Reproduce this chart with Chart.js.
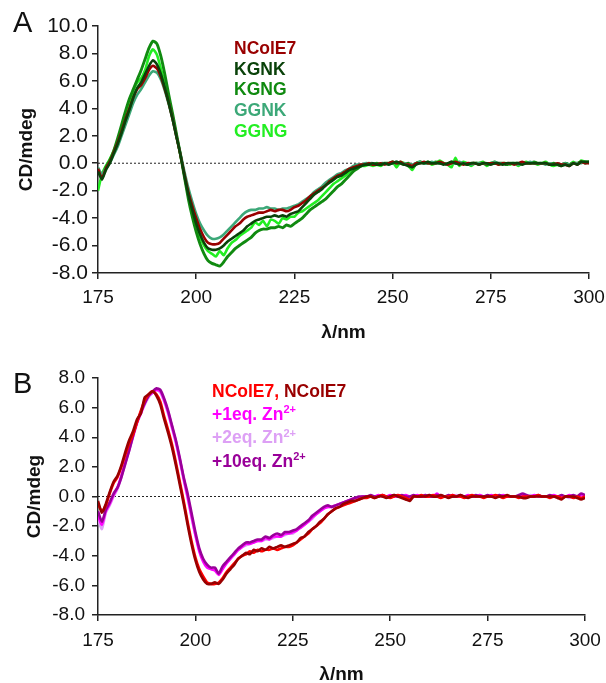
<!DOCTYPE html>
<html><head><meta charset="utf-8">
<script src="https://cdn.jsdelivr.net/npm/chart.js@4.4.1/dist/chart.umd.min.js"></script>
<style>
body{margin:0;background:#fff;}
#wrap{position:relative;width:606px;height:683px;font-family:"Liberation Sans",Arial,sans-serif;overflow:hidden;}
canvas{position:absolute;left:0;}
.pl{position:absolute;font-size:29px;line-height:29px;color:#111;}
.lg{position:absolute;font-size:17.5px;line-height:17px;font-weight:bold;white-space:nowrap;}
.sp{font-size:11px;position:relative;top:-6.5px;}
</style></head>
<body><div id="wrap">
<canvas id="cA" width="606" height="345" style="top:0"></canvas>
<canvas id="cB" width="606" height="338" style="top:345px"></canvas>
<div class="pl" style="left:13px;top:8px">A</div>
<div class="pl" style="left:13px;top:369px">B</div>
<div class="lg" style="left:234px;top:40px;color:#990000">NColE7</div>
<div class="lg" style="left:234px;top:60.5px;color:#0a420a">KGNK</div>
<div class="lg" style="left:234px;top:81px;color:#108a10">KGNG</div>
<div class="lg" style="left:234px;top:101.5px;color:#3ca878">GGNK</div>
<div class="lg" style="left:234px;top:122.5px;color:#22ee22">GGNG</div>
<div class="lg" style="left:212px;top:382.7px"><span style="color:#ff0000">NColE7,</span> <span style="color:#990000">NColE7</span></div>
<div class="lg" style="left:212px;top:405.7px;color:#ff00ff">+1eq. Zn<span class="sp">2+</span></div>
<div class="lg" style="left:212px;top:429.2px;color:#dda0f5">+2eq. Zn<span class="sp">2+</span></div>
<div class="lg" style="left:212px;top:452.7px;color:#990099">+10eq. Zn<span class="sp">2+</span></div>
</div>
<script>
const wavelengths = [175,176,177,178,179,180,181,182,183,184,185,186,187,188,189,190,191,192,193,194,195,196,197,198,199,200,201,202,203,204,205,206,207,208,209,210,211,212,213,214,215,216,217,218,219,220,221,222,223,224,225,226,227,228,229,230,231,232,233,234,235,236,237,238,239,240,241,242,243,244,245,246,247,248,249,250,251,252,253,254,255,256,257,258,259,260,261,262,263,264,265,266,267,268,269,270,271,272,273,274,275,276,277,278,279,280,281,282,283,284,285,286,287,288,289,290,291,292,293,294,295,296,297,298,299,300];
const xTicks = [175,200,225,250,275,300];
const yTicksA = [-8,-6,-4,-2,0,2,4,6,8,10];
const yTicksB = [-8,-6,-4,-2,0,2,4,6,8];

// Panel A
const aNColE7 = [-0.4,-1.1,-0.4,0.1,0.8,1.5,2.3,3.2,4.0,4.8,
 5.4,5.7,6.2,6.8,7.1,6.9,6.3,5.4,4.4,3.2,
 1.9,0.6,-0.8,-2.1,-3.1,-4.0,-4.8,-5.4,-5.8,-5.9,
 -5.9,-5.8,-5.5,-5.2,-4.9,-4.6,-4.4,-4.1,-3.9,-3.8,
 -3.7,-3.6,-3.6,-3.5,-3.4,-3.5,-3.4,-3.4,-3.5,-3.4,
 -3.2,-3.1,-2.9,-2.7,-2.4,-2.2,-2.0,-1.8,-1.6,-1.3,
 -1.1,-0.9,-0.8,-0.6,-0.4,-0.3,-0.2,-0.1,-0.1,0.0,
 -0.1,-0.1,0.0,-0.1,0.0,0.1,0.0,0.1,-0.1,-0.1,
 -0.2,0.0,0.0,0.1,0.0,0.0,0.0,0.1,0.0,-0.1,
 0.0,0.1,0.0,-0.1,0.0,0.0,0.0,-0.1,0.0,0.0,
 0.0,0.0,-0.1,0.0,0.0,0.0,-0.1,0.0,0.1,0.0,
 0.0,0.0,0.0,0.0,0.0,-0.1,-0.1,0.0,-0.1,-0.1,
 -0.2,0.0,-0.1,0.1,0.0,0.0];
const aKGNK = [-0.6,-1.2,-0.5,0.0,0.7,1.4,2.2,3.1,3.9,4.8,
 5.5,5.9,6.5,7.1,7.5,7.2,6.5,5.5,4.4,3.2,
 1.9,0.6,-0.9,-2.3,-3.4,-4.4,-5.2,-5.8,-6.2,-6.3,
 -6.3,-6.2,-6.0,-5.7,-5.5,-5.3,-5.1,-4.9,-4.6,-4.4,
 -4.2,-4.1,-4.0,-3.9,-3.9,-3.8,-3.9,-3.8,-3.9,-3.7,
 -3.6,-3.5,-3.2,-2.9,-2.6,-2.3,-2.1,-1.9,-1.6,-1.4,
 -1.2,-1.0,-0.9,-0.7,-0.5,-0.4,-0.3,-0.2,-0.1,-0.1,
 0.0,-0.1,-0.1,0.0,-0.1,0.0,0.1,0.0,-0.1,-0.2,
 -0.3,-0.1,0.0,0.0,0.1,0.0,0.0,0.0,-0.1,0.0,
 0.1,0.0,-0.1,0.0,-0.1,0.0,0.0,-0.1,0.0,0.0,
 -0.1,0.0,0.0,-0.1,0.0,0.0,0.0,0.0,-0.1,0.0,
 0.0,0.0,0.0,0.0,0.0,-0.1,-0.1,-0.1,-0.2,-0.1,
 -0.2,0.0,-0.1,0.1,0.1,0.1];
const aKGNG = [-0.5,-1.0,-0.3,0.2,0.9,1.8,2.8,3.8,4.7,5.4,
 6.1,6.8,7.6,8.4,8.9,8.7,7.8,6.5,5.0,3.6,
 2.1,0.6,-1.0,-2.6,-3.9,-5.0,-5.9,-6.6,-7.1,-7.3,
 -7.4,-7.5,-7.2,-6.8,-6.5,-6.2,-6.0,-5.8,-5.6,-5.4,
 -5.1,-4.9,-4.8,-4.8,-4.7,-4.7,-4.6,-4.7,-4.5,-4.6,
 -4.4,-4.2,-4.0,-3.7,-3.4,-3.2,-3.0,-2.8,-2.6,-2.3,
 -2.0,-1.7,-1.5,-1.2,-0.9,-0.6,-0.4,-0.2,-0.1,0.0,
 -0.1,0.0,-0.1,0.0,0.0,0.1,0.0,0.0,-0.1,0.0,
 -0.2,0.0,0.1,0.0,0.0,0.0,0.1,0.0,0.0,-0.1,
 0.1,0.0,0.0,0.0,-0.1,0.0,0.0,0.0,0.0,-0.1,
 0.0,0.0,0.0,0.0,-0.1,0.0,0.0,0.0,0.0,0.0,
 0.0,0.1,0.0,0.0,0.0,-0.1,0.0,-0.1,-0.1,0.0,
 -0.1,0.0,0.0,0.1,0.0,0.1];
const aGGNK = [-0.3,-0.8,-0.4,0.0,0.6,1.2,2.0,2.8,3.6,4.4,
 5.0,5.4,5.9,6.4,6.7,6.6,6.1,5.3,4.3,3.2,
 1.9,0.7,-0.6,-1.8,-2.8,-3.7,-4.4,-4.9,-5.3,-5.5,
 -5.5,-5.4,-5.2,-4.9,-4.6,-4.3,-4.0,-3.7,-3.5,-3.4,
 -3.4,-3.3,-3.3,-3.2,-3.3,-3.3,-3.4,-3.3,-3.3,-3.2,
 -3.1,-3.0,-2.8,-2.6,-2.4,-2.1,-1.9,-1.7,-1.4,-1.2,
 -1.0,-0.8,-0.7,-0.5,-0.4,-0.2,-0.1,-0.1,0.0,0.0,
 0.0,-0.1,0.0,0.0,-0.1,0.0,0.1,0.0,0.0,-0.1,
 -0.1,0.0,0.1,0.0,0.0,0.1,0.0,0.0,0.0,-0.1,
 0.0,0.0,0.1,0.0,0.0,-0.1,0.0,0.0,0.0,0.0,
 0.0,0.1,0.0,0.0,0.0,0.0,0.0,-0.1,0.0,0.0,
 0.1,0.0,0.0,0.0,-0.1,0.0,-0.1,0.0,-0.1,0.0,
 -0.1,0.0,0.0,0.0,0.1,0.0];
const aGGNG = [-2.0,-0.8,-0.2,0.3,0.9,1.6,2.4,3.3,4.3,5.3,
 5.9,6.2,6.8,7.8,8.3,7.9,6.9,5.8,4.6,3.4,
 2.0,0.6,-0.9,-2.4,-3.6,-4.6,-5.4,-6.0,-6.4,-6.6,
 -6.8,-6.4,-6.7,-6.2,-5.8,-5.6,-5.3,-5.1,-4.9,-4.7,
 -4.3,-4.5,-4.2,-4.6,-4.1,-4.2,-4.4,-4.0,-4.1,-3.9,
 -3.9,-3.6,-3.5,-3.3,-3.1,-2.9,-2.7,-2.4,-2.1,-1.8,
 -1.5,-1.3,-1.1,-0.9,-0.6,-0.4,-0.3,-0.2,-0.2,-0.1,
 -0.2,-0.1,-0.2,0.0,-0.1,0.1,-0.3,0.1,0.0,-0.2,
 -0.5,0.0,0.1,0.0,0.1,-0.1,0.0,0.2,0.0,-0.1,
 -0.3,0.4,-0.2,0.1,0.0,-0.2,0.0,0.0,0.1,-0.2,
 0.0,0.1,-0.1,0.0,0.0,-0.1,0.0,-0.2,0.0,0.1,
 0.0,0.0,-0.1,0.0,0.1,-0.1,-0.2,-0.1,-0.2,0.0,
 -0.1,0.1,-0.1,0.2,0.1,0.1];

// Panel B
const bNColE7red = [-0.5,-1.0,-0.6,0.2,0.9,1.3,2.0,2.8,3.6,4.2,
 5.0,5.8,6.5,6.9,7.1,6.9,6.4,5.4,4.5,3.5,
 2.3,1.0,-0.3,-1.7,-3.0,-4.1,-4.9,-5.4,-5.8,-5.9,
 -5.9,-5.8,-5.5,-5.1,-4.8,-4.5,-4.2,-4.0,-3.9,-3.7,
 -3.8,-3.6,-3.7,-3.6,-3.6,-3.5,-3.6,-3.5,-3.4,-3.4,
 -3.3,-3.1,-2.9,-2.7,-2.5,-2.2,-2.0,-1.8,-1.5,-1.2,
 -1.0,-0.8,-0.7,-0.6,-0.5,-0.4,-0.3,-0.2,-0.1,-0.1,
 0.0,-0.1,0.0,0.1,0.0,-0.1,0.0,0.1,0.0,-0.1,
 -0.2,0.0,0.0,0.1,0.0,0.0,0.1,0.0,-0.1,0.0,
 0.0,0.1,0.0,0.0,-0.1,0.0,0.1,0.0,0.0,-0.1,
 0.0,0.0,0.1,0.0,-0.1,0.0,0.0,0.0,-0.1,0.0,
 0.0,0.0,0.0,0.1,0.0,0.0,-0.1,0.0,0.0,-0.1,
 0.0,0.0,-0.1,0.0,-0.1,0.0];
const bNColE7dark = [-0.3,-1.1,-0.5,0.3,1.0,1.4,2.1,3.0,3.8,4.4,
 5.2,5.6,6.7,6.9,7.1,6.8,6.2,5.2,4.3,3.3,
 2.1,0.8,-0.5,-1.9,-3.2,-4.3,-5.1,-5.6,-5.9,-5.9,
 -5.8,-5.9,-5.6,-5.2,-4.9,-4.6,-4.2,-4.0,-3.8,-3.9,
 -3.6,-3.7,-3.5,-3.6,-3.4,-3.5,-3.4,-3.3,-3.4,-3.3,
 -3.2,-3.1,-2.8,-2.7,-2.4,-2.2,-2.0,-1.7,-1.5,-1.2,
 -1.0,-0.8,-0.7,-0.5,-0.4,-0.3,-0.3,-0.2,-0.1,0.0,
 0.0,-0.1,0.0,0.0,-0.1,0.0,0.1,0.0,-0.1,-0.2,
 -0.3,0.0,0.0,0.0,0.0,0.1,0.0,0.0,0.1,0.0,
 -0.1,0.0,0.0,0.1,0.0,-0.1,0.0,0.0,0.0,0.0,
 0.0,0.0,-0.1,0.0,0.0,0.1,0.0,0.0,0.0,-0.1,
 -0.1,0.0,0.0,0.0,0.0,0.0,0.0,0.0,-0.1,-0.2,
 0.0,0.0,0.0,-0.1,-0.2,-0.1];
const bZn1 = [-1.3,-1.9,-1.0,-0.5,0.1,0.6,1.4,2.3,3.2,4.1,
 5.0,5.6,6.3,6.8,7.0,7.2,7.1,6.5,5.7,4.7,
 3.7,2.5,1.2,0.0,-1.3,-2.6,-3.7,-4.4,-4.8,-4.9,
 -5.0,-5.3,-4.9,-4.5,-4.2,-3.9,-3.6,-3.4,-3.2,-3.2,
 -3.1,-3.0,-3.0,-2.8,-2.9,-2.7,-2.7,-2.7,-2.5,-2.5,
 -2.4,-2.3,-2.1,-1.9,-1.7,-1.4,-1.2,-1.0,-0.8,-0.7,
 -0.7,-0.6,-0.5,-0.4,-0.3,-0.2,-0.1,-0.1,0.0,0.0,
 0.0,0.0,0.1,0.0,0.0,0.1,0.0,0.0,0.0,0.1,
 0.0,0.0,0.1,0.0,0.0,0.1,0.0,0.2,0.0,0.0,
 0.0,0.1,0.0,0.0,0.0,0.1,0.0,0.0,0.1,0.0,
 0.0,0.1,0.0,0.0,0.1,0.0,0.0,0.0,0.0,0.1,
 0.0,0.0,0.1,0.0,0.0,0.0,0.0,0.1,0.0,0.0,
 0.0,0.1,0.0,0.0,0.1,0.0];
const bZn2 = [-1.5,-2.2,-1.1,-0.6,0.0,0.5,1.3,2.2,3.1,4.0,
 4.9,5.6,6.2,6.7,7.0,7.2,7.0,6.4,5.6,4.6,
 3.6,2.4,1.1,-0.1,-1.4,-2.6,-3.6,-4.3,-4.7,-4.9,
 -4.9,-5.2,-4.8,-4.5,-4.2,-3.9,-3.6,-3.4,-3.3,-3.2,
 -3.1,-3.0,-3.0,-2.9,-2.9,-2.8,-2.7,-2.7,-2.6,-2.5,
 -2.5,-2.3,-2.1,-1.9,-1.7,-1.5,-1.2,-1.0,-0.8,-0.7,
 -0.7,-0.6,-0.5,-0.4,-0.3,-0.2,-0.1,-0.1,0.0,0.0,
 0.0,0.0,0.0,0.1,0.0,0.0,0.0,0.1,0.0,0.0,
 -0.1,0.0,0.0,0.0,0.1,0.0,0.0,0.0,0.1,0.0,
 0.0,0.0,0.1,0.0,0.0,0.0,0.0,0.0,0.1,0.0,
 0.0,0.0,0.0,0.1,0.0,0.0,0.0,0.0,0.0,0.0,
 0.0,0.1,0.0,0.0,0.0,0.0,0.0,0.0,-0.1,-0.1,
 0.0,-0.1,0.0,0.0,0.0,0.0];
const bZn10 = [-1.0,-1.7,-0.9,-0.4,0.2,0.6,1.3,2.2,3.1,4.1,
 5.0,5.7,6.3,6.8,7.1,7.3,7.2,6.6,5.8,4.8,
 3.8,2.6,1.3,0.2,-1.1,-2.4,-3.5,-4.2,-4.6,-4.8,
 -4.8,-5.2,-4.7,-4.4,-4.1,-3.8,-3.5,-3.3,-3.1,-3.1,
 -3.0,-2.9,-2.9,-2.7,-2.8,-2.6,-2.5,-2.6,-2.4,-2.4,
 -2.3,-2.2,-2.0,-1.8,-1.6,-1.3,-1.1,-0.9,-0.7,-0.6,
 -0.7,-0.6,-0.5,-0.4,-0.3,-0.2,-0.1,0.0,0.0,0.0,
 0.1,0.0,0.0,0.1,0.0,0.0,0.1,0.0,0.1,0.0,
 0.0,0.1,0.0,0.0,0.1,0.0,0.0,0.1,0.0,0.0,
 0.1,0.0,0.0,0.1,0.0,0.0,0.0,0.1,0.0,0.0,
 0.1,0.0,0.0,0.1,0.0,0.0,0.0,0.0,0.1,0.2,
 0.1,0.0,0.0,0.1,0.0,0.0,0.1,0.0,0.0,0.1,
 0.0,0.0,0.1,0.0,0.2,0.1];
const zeroLine = [0, 0];
const zeroX = [175, 300];

function pts(vals){ return wavelengths.map((x,i)=>({x:x, y:vals[i]})); }
function line(vals, color, w){
  return {data: pts(vals), borderColor: color, borderWidth: w||2.6, pointRadius: 0, tension: 0.2, fill: false};
}
function zero(){
  return {data: zeroX.map((x,i)=>({x:x,y:zeroLine[i]})), borderColor:'#222', borderWidth:1, borderDash:[2,2], pointRadius:0, fill:false};
}
const FONT = '"Liberation Sans", Arial, sans-serif';
function opts(cfg){
  return {
    responsive:false, animation:false, events:[],
    layout:{padding:{left:0, right:cfg.padRight, top:cfg.padTop, bottom:0}},
    plugins:{legend:{display:false}, tooltip:{enabled:false}},
    scales:{
      x:{type:'linear', min:175, max:300,
         afterBuildTicks: s => { s.ticks = xTicks.map(v=>({value:v})); },
         afterFit: s => { s.height = cfg.xHeight; s.paddingLeft = 0; s.paddingRight = 0; },
         grid:{drawOnChartArea:false, drawTicks:true, tickLength:6, color:'#222', lineWidth:1.5},
         border:{display:true, color:'#222', width:1.5},
         ticks:{padding:cfg.xPad, color:'#111', font:{family:FONT, size:19}, maxRotation:0, autoSkip:false, callback:v=>String(v)},
         title:{display:true, text:'λ/nm', color:'#111', font:{family:FONT, size:19, weight:'bold', lineHeight:1}, padding:{top:0,bottom:cfg.xTitlePad}}
      },
      y:{type:'linear', min:cfg.ymin, max:cfg.ymax,
         afterBuildTicks: s => { s.ticks = cfg.yTicks.map(v=>({value:v})); },
         afterFit: s => { s.width = 98; s.paddingTop = 0; s.paddingBottom = 0; },
         grid:{drawOnChartArea:false, drawTicks:true, tickLength:6, color:'#222', lineWidth:1.5},
         border:{display:true, color:'#222', width:1.5},
         ticks:{padding:cfg.yPad, color:'#111', font:{family:FONT, size:cfg.yFont}, autoSkip:false, callback:v=>Number(v).toFixed(1)},
         title:{display:true, text:'CD/mdeg', color:'#111', font:{family:FONT, size:19, weight:'bold', lineHeight:1}, padding:{top:cfg.yTitlePad,bottom:0}}
      }
    }
  };
}

new Chart(document.getElementById('cA'), {
  type:'line',
  data:{datasets:[
    line(aKGNK,'#0a420a'),
    line(aNColE7,'#990000'),
    line(aGGNK,'#3ca878'),
    line(aKGNG,'#108a10',2.9),
    line(aGGNG,'#22ee22'),
    zero()
  ]},
  options: opts({padRight:17, padTop:26, xHeight:72, xPad:7, xTitlePad:2.5, yPad:4, yFont:21, yTitlePad:17.5, ymin:-8, ymax:10, yTicks:yTicksA})
});
new Chart(document.getElementById('cB'), {
  type:'line',
  data:{datasets:[
    line(bNColE7dark,'#990000'),
    line(bNColE7red,'#ff0000'),
    line(bZn10,'#990099'),
    line(bZn1,'#ff00ff'),
    line(bZn2,'#dda0f5'),
    zero()
  ]},
  options: opts({padRight:21, padTop:33, xHeight:68, xPad:8, xTitlePad:-1.5, yPad:7, yFont:19, yTitlePad:25, ymin:-8, ymax:8, yTicks:yTicksB})
});
</script>
</body></html>
